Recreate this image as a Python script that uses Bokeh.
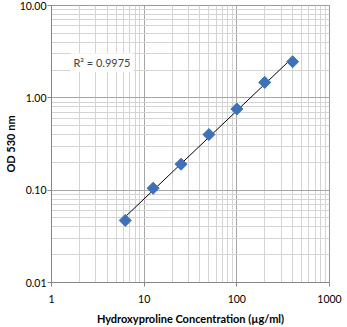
import numpy as np
from bokeh.plotting import figure
from bokeh.models import FixedTicker, PrintfTickFormatter, Label
from bokeh.embed import file_html
from bokeh.resources import INLINE

conc = [6.25, 12.5, 25, 50, 100, 200, 400]
od = [0.047, 0.105, 0.191, 0.400, 0.757, 1.47, 2.46]
x_ticks = [1, 10, 100, 1000]
y_ticks = [0.01, 0.1, 1, 10]
r2_text = "R\u00b2 = 0.9975"

# power trendline (least squares in log-log space)
b, a = np.polyfit(np.log(conc), np.log(od), 1)
fit_x = [conc[0], conc[-1]]
fit_y = [float(np.exp(a) * xx ** b) for xx in fit_x]

def minors(lo, hi):
    out = []
    d = lo
    while d < hi:
        out += [d * k for k in range(2, 10)]
        d *= 10
    return out

FONT = "Lato"
p = figure(width=347, height=327, x_axis_type="log", y_axis_type="log",
           x_range=(1, 1000), y_range=(0.01, 10),
           output_backend="svg", toolbar_location=None,
           min_border_left=0, min_border_right=18, min_border_top=5, min_border_bottom=0)
p.outline_line_color = "#9a9a9a"
p.background_fill_color = "white"

p.xaxis.ticker = FixedTicker(ticks=x_ticks, minor_ticks=minors(1, 1000))
p.yaxis.ticker = FixedTicker(ticks=y_ticks, minor_ticks=minors(0.01, 10))
p.xaxis.formatter = PrintfTickFormatter(format="%d")
p.yaxis.formatter = PrintfTickFormatter(format="%.2f")

for ax in (p.xaxis, p.yaxis):
    ax.axis_line_color = "#868686"
    ax.major_tick_line_color = "#868686"
    ax.major_tick_out = 4
    ax.major_tick_in = 0
    ax.minor_tick_line_color = None
    ax.major_label_text_font = FONT
    ax.major_label_text_font_size = "10.5px"
    ax.major_label_text_color = "#000000"
    ax.axis_label_text_font = FONT
    ax.axis_label_text_font_size = "11px"
    ax.axis_label_text_font_style = "bold"
    ax.axis_label_text_color = "#000000"
p.xaxis.axis_label = "Hydroxyproline Concentration (\u00b5g/ml)"
p.yaxis.axis_label = "OD 530 nm"
p.xaxis.major_label_standoff = 8
p.yaxis.major_label_standoff = 1
p.xaxis.axis_label_standoff = 6
p.yaxis.axis_label_standoff = 0

for g in (p.xgrid, p.ygrid):
    g.grid_line_color = "#a6a6a6"
    g.grid_line_width = 1
    g.minor_grid_line_color = "#d4d4d4"
    g.minor_grid_line_width = 1

p.line(fit_x, fit_y, line_color="black", line_width=1)
p.scatter(conc, od, marker="square", angle=np.pi / 4, size=8.5,
          fill_color="#3d72b8", line_color="#3d72b8")

lab = Label(x=1.6, y=2.4, text=r2_text, text_font=FONT, text_font_size="11px",
            text_baseline="middle", x_offset=0,
            background_fill_color="white", background_fill_alpha=1.0,
            padding=3)
p.add_layout(lab)

open("out.html", "w").write(file_html(p, INLINE))
